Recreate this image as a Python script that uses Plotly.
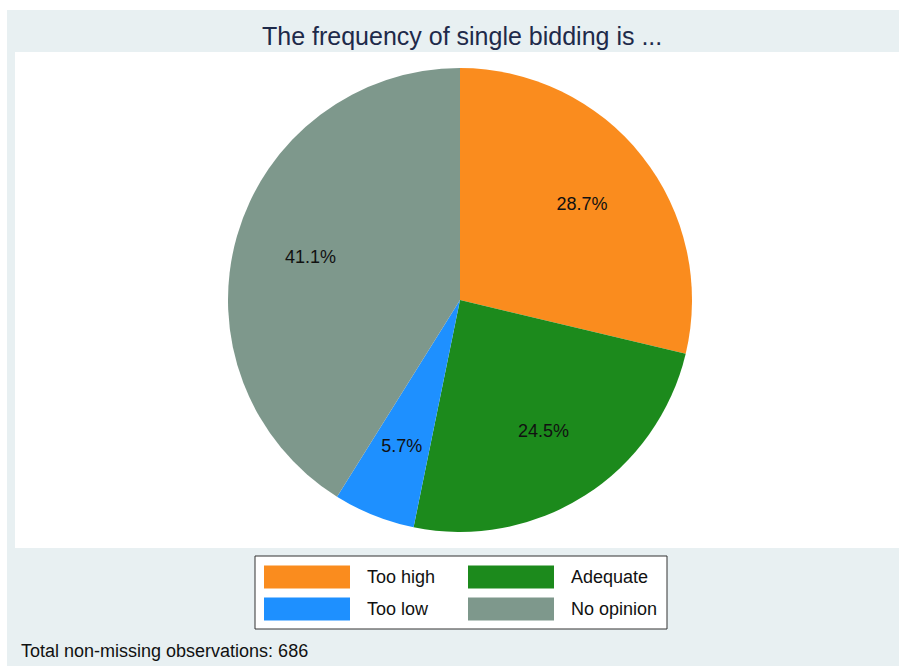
import plotly.graph_objects as go

labels = ["Too high", "Adequate", "Too low", "No opinion"]
counts = [197, 168, 39, 282]
colors = ["#FA8C1E", "#1C8A1C", "#1E90FF", "#7E988C"]
title_text = "The frequency of single bidding is ..."
note_text = "Total non-missing observations: 686"

W, H = 899, 666
FONT = "Liberation Sans, Arial, sans-serif"
PCT = "%{percent:.1%}"

def px(x):
    return x / W

def py(y):
    return 1 - y / H

pie_domain = dict(x=[px(228), px(692)], y=[py(532), py(68)])
ring_domain = dict(x=[px(275), px(645)], y=[py(485), py(115)])
clear = ["rgba(0,0,0,0)"] * len(labels)

fig = go.Figure()
fig.add_trace(go.Pie(
    labels=labels, values=counts, sort=False, direction="clockwise", rotation=0,
    marker=dict(colors=colors, line=dict(width=0)),
    textinfo="none", domain=pie_domain, showlegend=False, hoverinfo="label+percent",
))
# transparent rings used only to place the percentage labels at ~2/3 radius
fig.add_trace(go.Pie(
    labels=labels, values=counts, sort=False, direction="clockwise", rotation=0, hole=0.34,
    marker=dict(colors=clear, line=dict(width=0)),
    texttemplate=[PCT, PCT, "", PCT], textposition="inside", insidetextorientation="horizontal",
    textfont=dict(family=FONT, size=18, color="#111111"),
    domain=pie_domain, showlegend=False, hoverinfo="skip",
))
fig.add_trace(go.Pie(
    labels=labels, values=counts, sort=False, direction="clockwise", rotation=0, hole=0.66,
    marker=dict(colors=clear, line=dict(width=0)),
    texttemplate=["", "", PCT, ""], textposition="inside", insidetextorientation="horizontal",
    textfont=dict(family=FONT, size=18, color="#111111"),
    domain=ring_domain, showlegend=False, hoverinfo="skip",
))

shapes = [
    dict(type="rect", xref="paper", yref="paper", x0=px(7), x1=1, y0=0, y1=py(10),
         fillcolor="#E8F0F2", line=dict(width=0), layer="below"),
    dict(type="rect", xref="paper", yref="paper", x0=px(15), x1=1, y0=py(548), y1=py(52),
         fillcolor="#FFFFFF", line=dict(width=0), layer="below"),
    dict(type="rect", xref="paper", yref="paper", x0=px(255), x1=px(667), y0=py(629), y1=py(556),
         fillcolor="#FFFFFF", line=dict(color="#333333", width=1), layer="below"),
]
annotations = [
    dict(text=title_text, xref="paper", yref="paper", x=px(462), y=py(36), showarrow=False,
         xanchor="center", yanchor="middle",
         font=dict(family=FONT, size=25, color="#1E2A4A")),
    dict(text=note_text, xref="paper", yref="paper", x=px(19), y=py(651), showarrow=False,
         xanchor="left", yanchor="middle",
         font=dict(family=FONT, size=18, color="#111111")),
]
col_x = [264, 468]
row_y = [577, 609]
for i, (lab, colr) in enumerate(zip(labels, colors)):
    cx = col_x[i % 2]
    cy = row_y[i // 2]
    shapes.append(dict(type="rect", xref="paper", yref="paper", x0=px(cx), x1=px(cx + 86),
                       y0=py(cy + 11.5), y1=py(cy - 11.5), fillcolor=colr, line=dict(width=0)))
    annotations.append(dict(text=lab, xref="paper", yref="paper", x=px(cx + 101), y=py(cy),
                            showarrow=False, xanchor="left", yanchor="middle",
                            font=dict(family=FONT, size=18, color="#111111")))

fig.update_layout(
    width=W, height=H, margin=dict(l=0, r=0, t=0, b=0),
    paper_bgcolor="#FFFFFF", plot_bgcolor="#FFFFFF",
    shapes=shapes, annotations=annotations,
)
fig.write_html(
    "out.html",
    config={"displayModeBar": False},
    post_script="document.body.style.margin='0';document.body.style.overflow='hidden';",
)
